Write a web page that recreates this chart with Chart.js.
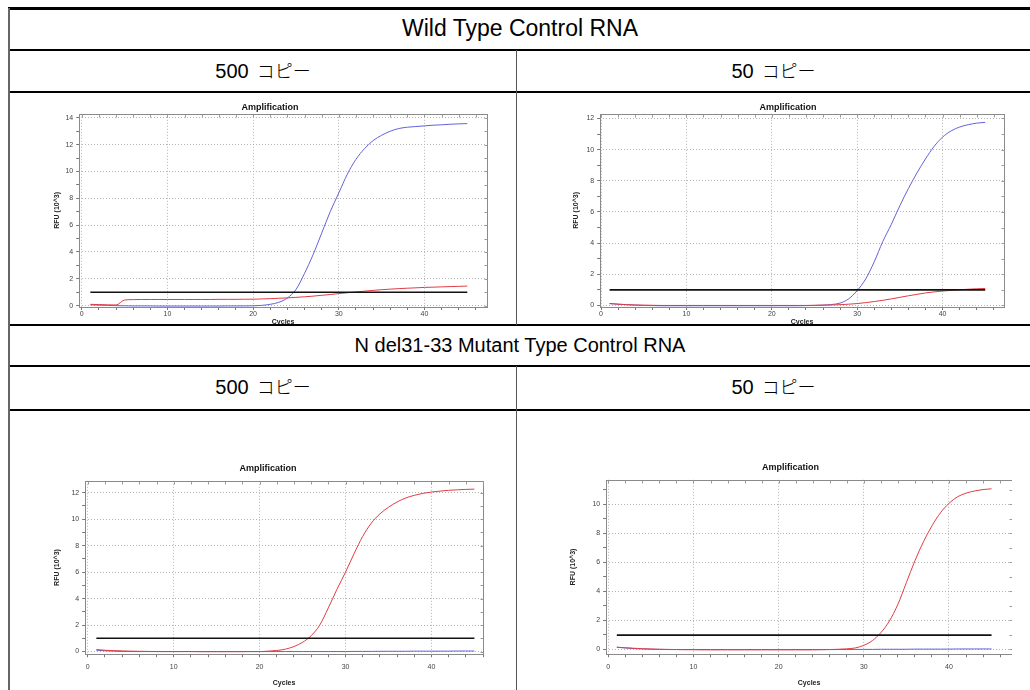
<!DOCTYPE html>
<html>
<head>
<meta charset="utf-8">
<script src="https://cdn.jsdelivr.net/npm/chart.js@4.4.1/dist/chart.umd.min.js"></script>
<style>
  html, body { margin: 0; padding: 0; background: #fff; }
  body { width: 1030px; height: 690px; position: relative; overflow: hidden; font-family: "Liberation Sans", Arial, sans-serif; }
  .hline { position: absolute; left: 8px; right: 0; height: 2px; background: #000; z-index: 2; }
  .vline { position: absolute; width: 1px; background: #555; z-index: 2; }
  .label { position: absolute; text-align: center; font-size: 20px; color: #000; line-height: 1; }
  .label .jp { font-family: "Noto Sans CJK JP", sans-serif; font-weight: 300; font-size: 18px; margin-left: 8px; }
  .cell { position: absolute; z-index: 1; }
</style>
</head>
<body>
  <div class="hline" style="top:7px;height:3px"></div>
  <div class="hline" style="top:49px"></div>
  <div class="hline" style="top:91px"></div>
  <div class="hline" style="top:324px"></div>
  <div class="hline" style="top:365px"></div>
  <div class="hline" style="top:409px"></div>
  <div class="vline" style="left:8px;top:8px;height:682px;width:2px;background:#666"></div>
  <div class="vline" style="left:516px;top:50px;height:275px"></div>
  <div class="vline" style="left:516px;top:366px;height:324px"></div>

  <div class="label" style="left:10px;width:1020px;top:17px;font-size:23px">Wild Type Control RNA</div>
  <div class="label" style="left:10px;width:506px;top:61px">500<span class="jp">コピー</span></div>
  <div class="label" style="left:517px;width:513px;top:61px">50<span class="jp">コピー</span></div>
  <div class="label" style="left:10px;width:1020px;top:335px">N del31-33 Mutant Type Control RNA</div>
  <div class="label" style="left:10px;width:506px;top:377px">500<span class="jp">コピー</span></div>
  <div class="label" style="left:517px;width:513px;top:377px">50<span class="jp">コピー</span></div>

  <div class="cell" style="left:44px;top:98px;width:450px;height:228px"><canvas id="wt500"></canvas></div>
  <div class="cell" style="left:562px;top:98px;width:450px;height:228px"><canvas id="wt50"></canvas></div>
  <div class="cell" style="left:44px;top:459px;width:450px;height:231px"><canvas id="mut500"></canvas></div>
  <div class="cell" style="left:562px;top:458px;width:450px;height:232px"><canvas id="mut50"></canvas></div>

<script>
const cycles = [
  1, 2, 3, 4, 5, 6, 7, 8, 9, 10, 11, 12, 13, 14, 15, 16, 17, 18, 19, 20, 21, 22,
  23, 24, 25, 26, 27, 28, 29, 30, 31, 32, 33, 34, 35, 36, 37, 38, 39, 40, 41,
  42, 43, 44, 45,
];

// Wild Type 500 copies
const wt500Blue = [
  0.06, 0.04, 0.02, 0.0, -0.01, -0.02, -0.02, -0.02, -0.03, -0.03,
  -0.03, -0.03, -0.03, -0.03, -0.03, -0.03, -0.02, -0.02, -0.02, -0.01,
  0.02, 0.1, 0.25, 0.57, 1.2, 2.4, 3.8, 5.4, 7.0, 8.4,
  9.8, 10.9, 11.7, 12.3, 12.7, 13.0, 13.2, 13.3, 13.35, 13.4,
  13.45, 13.48, 13.52, 13.55, 13.57,
];
const wt500Red = [
  0.1, 0.08, 0.06, 0.05, 0.42, 0.45, 0.46, 0.46, 0.46, 0.46,
  0.46, 0.46, 0.46, 0.46, 0.46, 0.47, 0.47, 0.47, 0.48, 0.48,
  0.5, 0.52, 0.55, 0.58, 0.62, 0.66, 0.71, 0.77, 0.83, 0.9,
  0.96, 1.02, 1.08, 1.14, 1.19, 1.23, 1.27, 1.3, 1.33, 1.36,
  1.38, 1.4, 1.42, 1.44, 1.46,
];

// Wild Type 50 copies
const wt50Blue = [
  0.12, 0.08, 0.05, 0.02, 0.0, -0.01, -0.02, -0.02, -0.02, -0.02,
  -0.02, -0.02, -0.02, -0.02, -0.02, -0.02, -0.02, -0.02, -0.02, -0.02,
  -0.02, -0.02, -0.02, -0.01, 0.0, 0.02, 0.06, 0.15, 0.42, 0.95,
  1.7, 2.8, 4.1, 5.2, 6.4, 7.5, 8.5, 9.4, 10.2, 10.8,
  11.2, 11.45, 11.6, 11.7, 11.75,
];
const wt50Red = [
  0.12, 0.08, 0.05, 0.03, 0.02, 0.01, 0.0, 0.0, 0.0, 0.0,
  0.0, 0.0, 0.0, 0.0, 0.0, 0.0, 0.0, 0.0, 0.0, 0.0,
  0.0, 0.0, 0.0, 0.0, 0.01, 0.02, 0.03, 0.05, 0.08, 0.12,
  0.18, 0.25, 0.33, 0.42, 0.52, 0.62, 0.71, 0.8, 0.87, 0.92,
  0.97, 1.01, 1.04, 1.07, 1.09,
];

// Mutant 500 copies
const mut500Blue = [
  0.1, 0.06, 0.03, 0.01, 0.0, 0.0, 0.0, 0.0, 0.0, 0.0,
  0.0, 0.0, 0.0, 0.0, 0.0, 0.0, 0.0, 0.0, 0.0, 0.0,
  0.0, 0.0, 0.0, 0.0, 0.0, 0.0, 0.0, 0.0, 0.0, 0.0,
  0.01, 0.01, 0.01, 0.02, 0.02, 0.02, 0.02, 0.03, 0.03, 0.03,
  0.03, 0.03, 0.04, 0.04, 0.04,
];
const mut500Red = [
  0.15, 0.1, 0.07, 0.05, 0.03, 0.02, 0.01, 0.0, 0.0, 0.0,
  0.0, 0.0, -0.01, -0.01, -0.01, -0.01, -0.01, -0.01, 0.0, 0.0,
  0.03, 0.08, 0.18, 0.38, 0.7, 1.2, 2.0, 3.3, 4.7, 6.0,
  7.4, 8.7, 9.7, 10.4, 10.9, 11.3, 11.6, 11.8, 11.95, 12.05,
  12.12, 12.18, 12.22, 12.25, 12.27,
];

// Mutant 50 copies
const mut50Blue = [
  0.15, 0.1, 0.06, 0.03, 0.01, 0.0, -0.01, -0.01, -0.01, -0.01,
  -0.01, -0.01, -0.01, -0.01, -0.01, -0.01, -0.01, -0.01, -0.01, -0.01,
  -0.01, -0.01, -0.01, -0.01, -0.01, -0.01, -0.01, -0.01, 0.0, 0.0,
  0.0, 0.01, 0.01, 0.01, 0.01, 0.02, 0.02, 0.02, 0.02, 0.02,
  0.03, 0.03, 0.03, 0.03, 0.03,
];
const mut50Red = [
  0.15, 0.11, 0.08, 0.05, 0.03, 0.01, 0.0, -0.01, -0.02, -0.02,
  -0.03, -0.03, -0.03, -0.03, -0.03, -0.03, -0.03, -0.03, -0.03, -0.03,
  -0.03, -0.03, -0.03, -0.03, -0.02, -0.01, 0.01, 0.04, 0.1, 0.28,
  0.6, 1.15, 1.95, 3.1, 4.6, 6.1, 7.4, 8.5, 9.4, 10.05,
  10.5, 10.75, 10.9, 11.0, 11.05,
];

const thresholds = [1.0, 1.0, 1.0, 0.98];
const xMajorTicks = [0, 10, 20, 30, 40];

const BLUE = "#6262dc";
const RED = "#e03c42";
const GRID = "#b4b4b4";
const FONT = "'Liberation Sans', Arial, sans-serif";

// plot frame plus the small tick marks on the top and right edges
const framePlugin = {
  id: "frame",
  beforeDatasetsDraw(chart) {
    const { ctx, chartArea, scales } = chart;
    const left = Math.round(chartArea.left) + 0.5;
    const top = Math.round(chartArea.top) + 0.5;
    const right = left + Math.round(chartArea.width);
    const bottom = top + Math.round(chartArea.height);
    ctx.save();
    ctx.strokeStyle = "#8a8a8a";
    ctx.lineWidth = 1;
    ctx.strokeRect(left, top, right - left, bottom - top);
    ctx.strokeStyle = "#999";
    ctx.beginPath();
    scales.x.ticks.forEach((t) => {
      const px = Math.round(scales.x.getPixelForValue(t.value)) + 0.5;
      ctx.moveTo(px, top);
      ctx.lineTo(px, top + 3);
    });
    scales.y.ticks.forEach((t) => {
      const py = Math.round(scales.y.getPixelForValue(t.value)) + 0.5;
      ctx.moveTo(right, py);
      ctx.lineTo(right - 3, py);
    });
    ctx.stroke();
    ctx.restore();
  },
};

function toPoints(values) {
  return cycles.map((c, i) => ({ x: c, y: values[i] }));
}

function makeChart(id, blue, red, threshold, xRange, yRange, box) {
  const xTicks = [];
  for (let v = 0; v <= xRange[1]; v += 2) xTicks.push({ value: v });
  const yTicks = [];
  for (let v = 0; v <= yRange[1]; v += 1) yTicks.push({ value: v });

  const isMajorX = (v) => xMajorTicks.includes(v);
  const isMajorY = (v) => v % 2 === 0;

  return new Chart(document.getElementById(id), {
    type: "line",
    data: {
      datasets: [
        {
          label: "Threshold",
          data: [
            { x: cycles[0], y: threshold },
            { x: cycles[cycles.length - 1], y: threshold },
          ],
          borderColor: "#111",
          borderWidth: 1.6,
          pointRadius: 0,
        },
        {
          label: "Red",
          data: toPoints(red),
          borderColor: RED,
          borderWidth: 1,
          pointRadius: 0,
          cubicInterpolationMode: "monotone",
        },
        {
          label: "Blue",
          data: toPoints(blue),
          borderColor: BLUE,
          borderWidth: 1,
          pointRadius: 0,
          cubicInterpolationMode: "monotone",
        },
      ],
    },
    options: {
      responsive: true,
      maintainAspectRatio: false,
      animation: false,
      events: [],
      layout: { padding: { left: box.left, right: box.right, top: 0, bottom: 0 } },
      plugins: {
        legend: { display: false },
        tooltip: { enabled: false },
        title: {
          display: true,
          text: "Amplification",
          color: "#111",
          font: { family: FONT, size: 9, weight: "bold" },
          padding: { top: 4, bottom: box.titleGap },
        },
      },
      scales: {
        x: {
          type: "linear",
          min: xRange[0],
          max: xRange[1],
          afterBuildTicks: (scale) => {
            scale.ticks = xTicks.map((t) => ({ ...t }));
          },
          ticks: {
            autoSkip: false,
            maxRotation: 0,
            color: "#444",
            padding: box.tickPad,
            font: { family: FONT, size: 7, lineHeight: box.lh },
            callback: (v) => (isMajorX(v) ? v : ""),
          },
          grid: {
            color: (ctx) =>
              ctx.tick && isMajorX(ctx.tick.value) ? GRID : "rgba(0,0,0,0)",
            tickColor: "#777",
            tickLength: 3,
          },
          border: { display: false, dash: [1, 2] },
          title: {
            display: true,
            text: "Cycles",
            color: "#222",
            font: { family: FONT, size: 7, weight: "bold", lineHeight: box.lh },
            padding: { top: box.cyclesTop, bottom: box.cyclesBottom },
          },
        },
        y: {
          type: "linear",
          min: yRange[0],
          max: yRange[1],
          afterBuildTicks: (scale) => {
            scale.ticks = yTicks.map((t) => ({ ...t }));
          },
          ticks: {
            autoSkip: false,
            color: "#444",
            padding: 3,
            font: { family: FONT, size: 7 },
            callback: (v) => (isMajorY(v) ? v : ""),
          },
          grid: {
            color: (ctx) =>
              ctx.tick && isMajorY(ctx.tick.value) ? GRID : "rgba(0,0,0,0)",
            tickColor: "#777",
            tickLength: 3,
          },
          border: { display: false, dash: [1, 2] },
          title: {
            display: true,
            text: "RFU (10^3)",
            color: "#222",
            font: { family: FONT, size: 7, weight: "bold" },
            padding: { top: 0, bottom: box.rfuGap },
          },
        },
      },
    },
    plugins: [framePlugin],
  });
}

makeChart("wt500", wt500Blue, wt500Red, thresholds[0], [-0.3, 47.3], [-0.1, 14.3],
  { left: 9, right: 7, titleGap: 1, tickPad: 1, lh: 1, cyclesTop: 0, cyclesBottom: 0, rfuGap: 1 });
makeChart("wt50", wt50Blue, wt50Red, thresholds[1], [-0.1, 47.2], [-0.1, 12.3],
  { left: 10, right: 8, titleGap: 1, tickPad: 1, lh: 1, cyclesTop: 0, cyclesBottom: 0, rfuGap: 3 });
makeChart("mut500", mut500Blue, mut500Red, thresholds[2], [-0.3, 46.0], [-0.2, 12.9],
  { left: 9, right: 11, titleGap: 7, tickPad: 6, lh: 1.2, cyclesTop: 1, cyclesBottom: 3, rfuGap: 7 });
makeChart("mut50", mut50Blue, mut50Red, thresholds[3], [-0.25, 47.4], [-0.33, 11.67],
  { left: 7, right: 0, titleGap: 7, tickPad: 6, lh: 1.2, cyclesTop: 1, cyclesBottom: 3, rfuGap: 12 });
</script>
</body>
</html>
